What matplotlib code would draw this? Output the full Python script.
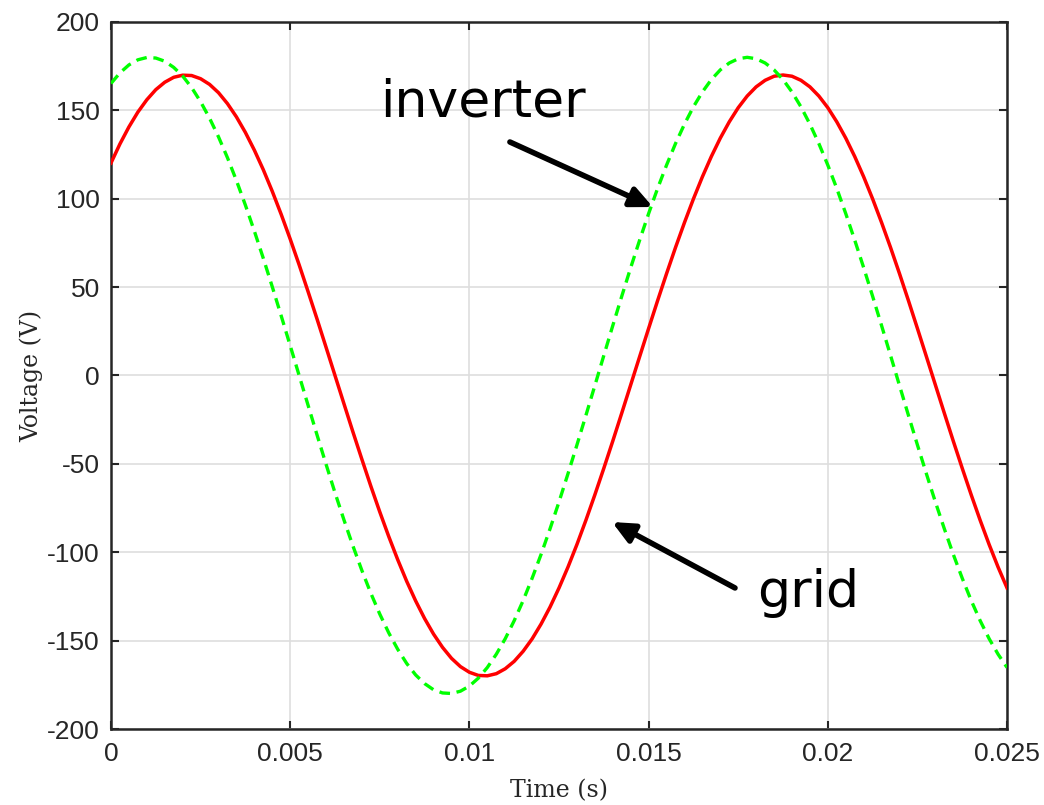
import numpy as np
import matplotlib
matplotlib.use("Agg")
import matplotlib.pyplot as plt

# time samples (s)
time_s = np.linspace(0, 0.025, 101)

# grid voltage (red, solid)
grid_v = [
    120.2, 131.0, 140.6, 149.0, 156.0, 161.7, 165.9, 168.7, 169.9, 169.7,
    167.9, 164.7, 160.0, 153.8, 146.3, 137.5, 127.5, 116.4, 104.2, 91.1,
    77.2, 62.6, 47.4, 31.9, 16.0, 0.0, -16.0, -31.9, -47.4, -62.6,
    -77.2, -91.1, -104.2, -116.4, -127.5, -137.5, -146.3, -153.8, -160.0, -164.7,
    -167.9, -169.7, -169.9, -168.7, -165.9, -161.7, -156.0, -149.0, -140.6, -131.0,
    -120.2, -108.4, -95.6, -81.9, -67.5, -52.5, -37.1, -21.3, -5.3, 10.7,
    26.6, 42.3, 57.6, 72.4, 86.5, 99.9, 112.4, 123.9, 134.3, 143.5,
    151.5, 158.1, 163.3, 167.0, 169.3, 170.0, 169.3, 167.0, 163.3, 158.1,
    151.5, 143.5, 134.3, 123.9, 112.4, 99.9, 86.5, 72.4, 57.6, 42.3,
    26.6, 10.7, -5.3, -21.3, -37.1, -52.5, -67.5, -81.9, -95.6, -108.4,
    -120.2,
]

# inverter voltage (green, dashed)
inverter_v = [
    165.2, 171.2, 175.7, 178.6, 179.9, 179.6, 177.8, 174.3, 169.4, 162.9,
    154.9, 145.6, 135.0, 123.2, 110.3, 96.4, 81.7, 66.3, 50.2, 33.7,
    16.9, 0.0, -16.9, -33.7, -50.2, -66.3, -81.7, -96.4, -110.3, -123.2,
    -135.0, -145.6, -154.9, -162.9, -169.4, -174.3, -177.8, -179.6, -179.9, -178.6,
    -175.7, -171.2, -165.2, -157.7, -148.9, -138.7, -127.3, -114.7, -101.2, -86.7,
    -71.5, -55.6, -39.3, -22.6, -5.7, 11.3, 28.2, 44.8, 61.0, 76.6,
    91.6, 105.8, 119.0, 131.2, 142.2, 152.0, 160.4, 167.4, 172.9, 176.8,
    179.2, 180.0, 179.2, 176.8, 172.9, 167.4, 160.4, 152.0, 142.2, 131.2,
    119.0, 105.8, 91.6, 76.6, 61.0, 44.8, 28.2, 11.3, -5.7, -22.6,
    -39.3, -55.6, -71.5, -86.7, -101.2, -114.7, -127.3, -138.7, -148.9, -157.7,
    -165.2,
]

x_ticks = [0, 0.005, 0.01, 0.015, 0.02, 0.025]
x_tick_labels = ["0", "0.005", "0.01", "0.015", "0.02", "0.025"]
y_ticks = [-200, -150, -100, -50, 0, 50, 100, 150, 200]
y_tick_labels = ["-200", "-150", "-100", "-50", "0", "50", "100", "150", "200"]

fig = plt.figure(figsize=(10.44, 8.05), dpi=100)
ax = fig.add_axes([0.1063, 0.0944, 0.8583, 0.8783])

ax.plot(time_s, grid_v, color=(1, 0, 0), linewidth=2.5, zorder=3)
ax.plot(time_s, inverter_v, color=(0, 1, 0), linewidth=2.4,
        dashes=(3.2, 2.0), zorder=3)

ax.set_xlim(0, 0.025)
ax.set_ylim(-200, 200)
ax.set_xticks(x_ticks)
ax.set_xticklabels(x_tick_labels)
ax.set_yticks(y_ticks)
ax.set_yticklabels(y_tick_labels)

ax.grid(True, color=(0.87, 0.87, 0.87), linewidth=1.2, zorder=0)
ax.set_axisbelow(True)

dark = (0.15, 0.15, 0.15)
for s in ax.spines.values():
    s.set_color(dark)
    s.set_linewidth(1.8)

ax.tick_params(direction="in", length=6, width=1.5, color=dark,
               top=True, right=True, labelsize=19, labelcolor=dark)
ax.tick_params(axis="y", pad=8)
ax.tick_params(axis="x", pad=9)
for lab in ax.get_xticklabels() + ax.get_yticklabels():
    lab.set_family("Liberation Sans")

ax.set_xlabel("Time (s)", family="DejaVu Serif", fontsize=17, color=dark,
              labelpad=10)
ax.set_ylabel("Voltage (V)", family="DejaVu Serif", fontsize=17, color=dark,
              labelpad=3)

arrow_style = dict(arrowstyle="-|>,head_length=1.3,head_width=0.6",
                   color="black", linewidth=4.0, shrinkA=0, shrinkB=0)
ax.annotate("", xy=(0.01512, 95.3), xytext=(0.01113, 132.1),
            arrowprops=arrow_style, zorder=5)
ax.annotate("", xy=(0.01398, -82.9), xytext=(0.01741, -120.2),
            arrowprops=arrow_style, zorder=5)

ax.text(0.00751, 146.3, "inverter", family="DejaVu Sans", fontsize=37.5,
        ha="left", va="baseline", color="black", zorder=6)
ax.text(0.01802, -131.0, "grid", family="DejaVu Sans", fontsize=37.5,
        ha="left", va="baseline", color="black", zorder=6)

fig.savefig("out.png", dpi=100)
